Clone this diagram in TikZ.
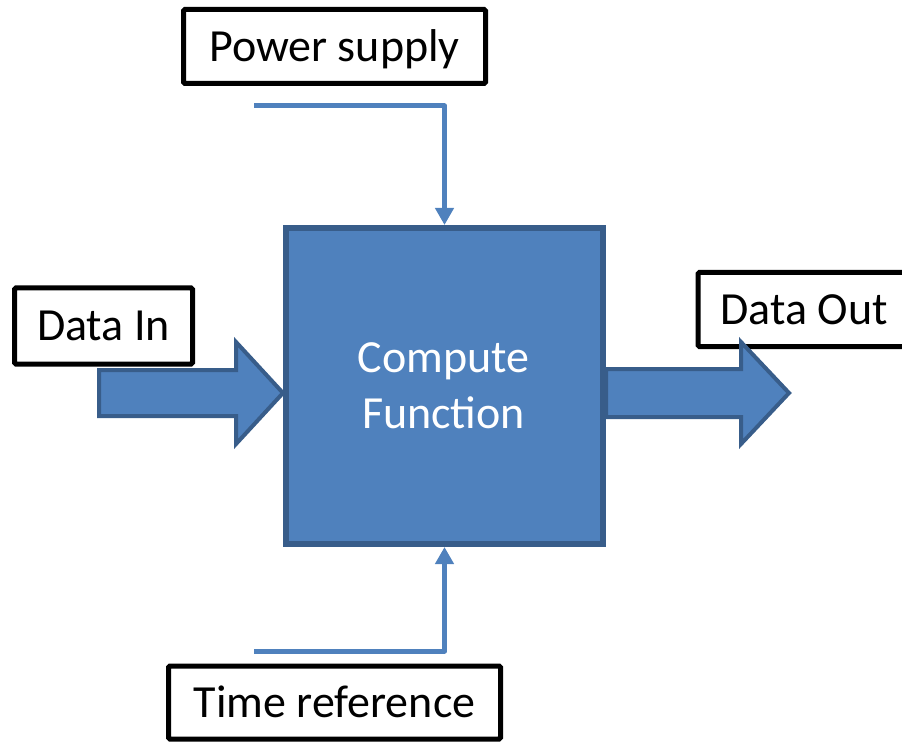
\documentclass[tikz,border=0pt]{standalone}
\usepackage{fontspec}
\setmainfont{Carlito}
\usetikzlibrary{arrows.meta}
\definecolor{accent}{HTML}{4F81BD}
\definecolor{accentdark}{HTML}{385D8A}
\tikzset{
  labelbox/.style={draw=black, line width=5pt, rounded corners=1.5pt, fill=white,
    inner sep=0pt, text height=29.6pt, text depth=0pt,
    font=\fontsize{46}{56}\selectfont},
  mainbox/.style={draw=accentdark, fill=accent, line width=6pt, inner sep=0pt,
    minimum width=317pt, minimum height=316pt},
  ctext/.style={text=white, inner sep=0pt, text height=29.6pt, text depth=0pt,
    font=\fontsize{46}{56}\selectfont},
  sigline/.style={draw=accent, line width=5pt, line join=round,
    -{Triangle[length=17pt,width=18pt]}},
  blockarrow/.style={draw=accentdark, fill=accent, line width=4pt, line join=miter}
}
\begin{document}
\begin{tikzpicture}[x=1pt,y=-1pt]
\useasboundingbox (0,0) rectangle (902,743);
% label boxes
\node[labelbox, minimum width=302pt, minimum height=74pt] (power) at (334.5,46.5) {Power supply};
\node[labelbox, minimum width=178pt, minimum height=76pt] (datain) at (103.5,326) {Data In};
\node[labelbox, minimum width=212pt, minimum height=74pt] (dataout) at (804,309.5) {Data Out};
\node[labelbox, minimum width=332pt, minimum height=73pt] (timeref) at (334.5,702.5) {Time reference};
% main block
\node[mainbox] (compute) at (444.5,386) {};
\node[ctext] (ctop) at (443.5,358) {Compute};
\node[ctext] (cbot) at (443.5,414) {Function};
% block arrows
\path (compute.west) ++(0,7) coordinate (intip);
\path (compute.east) ++(0,7) coordinate (outbase);
\draw[blockarrow] (intip) -- ++(-47,-51) -- ++(0,28) -- ++(-137,0) -- ++(0,46) -- ++(137,0) -- ++(0,28) -- cycle;
\draw[blockarrow] (outbase) ++(0,-24) -- ++(135,0) -- ++(0,-27) -- ++(48,51) -- ++(-48,51) -- ++(0,-27) -- ++(-135,0) -- cycle;
% signal lines
\coordinate (pwrstart) at (254,106);
\coordinate (timestart) at (254,651);
\draw[sigline] (pwrstart) -| (compute.north);
\draw[sigline] (timestart) -| (compute.south);
\end{tikzpicture}
\end{document}
